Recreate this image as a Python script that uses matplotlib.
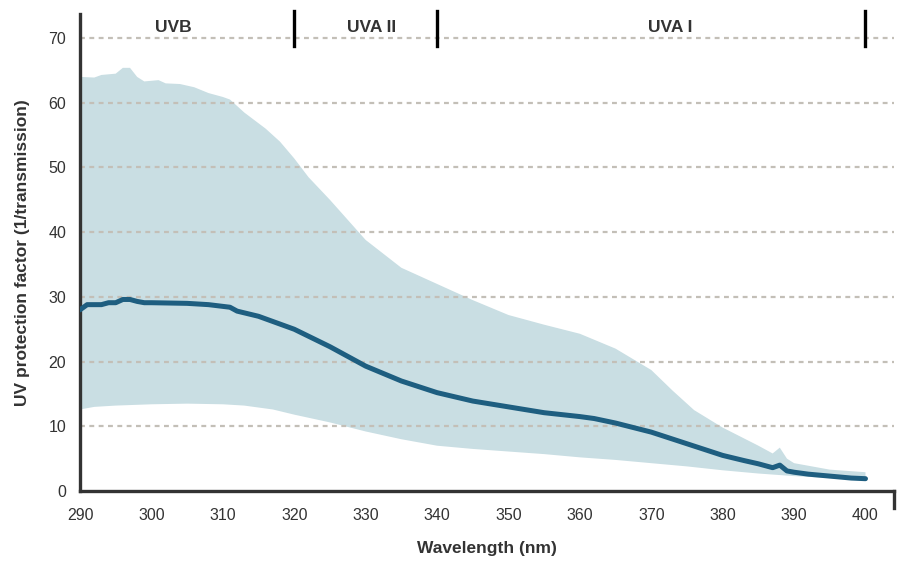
import matplotlib
matplotlib.use("Agg")
import matplotlib.pyplot as plt

plt.rcParams['font.family'] = ['Liberation Sans', 'DejaVu Sans']

# mean UV protection factor
wl_mean = [290, 291, 293, 294, 295, 296, 297, 298, 299, 300, 305, 308, 311, 312, 315,
           320, 325, 330, 335, 340, 345, 350, 355, 360, 362, 365, 370, 375, 380,
           383, 385, 387, 388, 389, 390, 392, 395, 398, 400]
upf_mean = [28.0, 28.8, 28.8, 29.1, 29.1, 29.6, 29.6, 29.3, 29.1, 29.1, 29.0, 28.8, 28.4, 27.8, 27.0,
            25.0, 22.3, 19.3, 17.0, 15.2, 13.9, 13.0, 12.1, 11.5, 11.2, 10.5, 9.1, 7.3, 5.5,
            4.7, 4.2, 3.6, 4.0, 3.1, 2.9, 2.6, 2.3, 2.0, 1.9]

# upper edge of the band
wl_upper = [290, 292, 293, 295, 296, 297, 298, 299, 300, 301, 302, 304, 306, 308, 310, 311,
            313, 316, 318, 320, 322, 325, 330, 335, 340, 345, 350, 355, 360, 365, 370,
            373, 376, 380, 385, 387, 388, 389, 390, 395, 400]
upf_upper = [64.0, 63.9, 64.3, 64.5, 65.4, 65.4, 64.0, 63.3, 63.4, 63.5, 63.0, 62.9, 62.4, 61.5, 60.9, 60.5,
             58.5, 56.0, 54.0, 51.4, 48.5, 45.0, 38.8, 34.5, 32.0, 29.5, 27.2, 25.7, 24.3, 22.0, 18.7,
             15.5, 12.5, 9.8, 7.0, 5.8, 6.7, 5.0, 4.3, 3.3, 2.9]

# lower edge of the band
wl_lower = [290, 292, 295, 300, 305, 310, 313, 317, 320, 325, 330, 335, 340, 345,
            350, 355, 360, 365, 370, 375, 380, 385, 390, 395, 400]
upf_lower = [12.6, 13.0, 13.2, 13.4, 13.5, 13.4, 13.2, 12.6, 11.8, 10.6, 9.2, 8.0, 7.0, 6.5,
             6.1, 5.7, 5.2, 4.8, 4.3, 3.8, 3.2, 2.7, 2.3, 2.0, 1.7]

x_ticks = [290, 300, 310, 320, 330, 340, 350, 360, 370, 380, 390, 400]
y_ticks = [0, 10, 20, 30, 40, 50, 60, 70]

bands = ["UVB", "UVA II", "UVA I"]
band_label_x = [303.1, 330.8, 372.6]
band_edges = [320, 340, 400]

fill_col = "#c9dee3"
line_col = "#1e5e80"
text_col = "#333333"

fig = plt.figure(figsize=(8.98, 5.61), dpi=100)
ax = fig.add_axes([0.0891, 0.1248, 0.9065, 0.850])

# band: fill between upper and lower, drawn as one polygon
poly_x = wl_upper + wl_lower[::-1]
poly_y = upf_upper + upf_lower[::-1]
ax.fill(poly_x, poly_y, color=fill_col, lw=0, zorder=1)

# dotted grid sits on top of the band, under the mean line
for yv in y_ticks[1:]:
    ax.axhline(yv, color="#c3bfb7", lw=1.6, ls=(0, (2.2, 2.0)), zorder=2)

ax.plot(wl_mean, upf_mean, color=line_col, lw=3.6, solid_capstyle="round",
        solid_joinstyle="round", zorder=3)

# region markers along the top
for xe in band_edges:
    ax.plot([xe, xe], [68.8, 74.2], color="black", lw=2.4, clip_on=False, zorder=4)
for name, xl in zip(bands, band_label_x):
    ax.text(xl, 71.6, name, ha="center", va="center", fontsize=12.5,
            fontweight="bold", color=text_col)

ax.set_xlim(290, 404)
ax.set_ylim(0, 73.7)
ax.set_xticks(x_ticks)
ax.set_yticks(y_ticks)
ax.tick_params(length=0, labelsize=11.5, colors=text_col)
ax.tick_params(axis="x", pad=12)
ax.tick_params(axis="y", pad=10)

for s in ["top", "right"]:
    ax.spines[s].set_visible(False)
for s in ["left", "bottom"]:
    ax.spines[s].set_color("#333333")
    ax.spines[s].set_linewidth(2.4)
# small drop at the right end of the x axis
ax.plot([404, 404], [0, -2.6], color="#333333", lw=2.4, clip_on=False)

ax.set_xlabel("Wavelength (nm)", fontsize=12.5, fontweight="bold", color=text_col, labelpad=13)
ax.set_ylabel("UV protection factor (1/transmission)", fontsize=12.5, fontweight="bold",
              color=text_col, labelpad=13)

fig.savefig("out.png", dpi=100)
